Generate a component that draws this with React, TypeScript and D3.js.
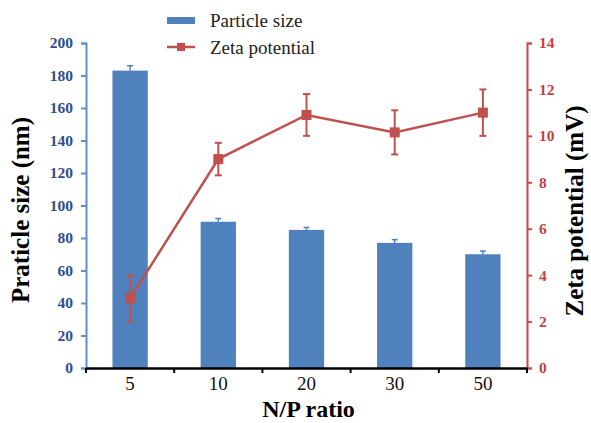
import React, { useEffect, useRef } from 'react'
import * as d3 from 'd3'

// N/P ratio categories
const categories = ['5', '10', '20', '30', '50']
// particle size (nm) and its error
const sizeValues = [183, 90, 85, 77, 70]
const sizeErrors = [3, 2, 1.5, 2, 2]
// zeta potential (mV) and its error
const zetaValues = [3.0, 9.0, 10.9, 10.15, 11.0]
const zetaErrors = [1.0, 0.7, 0.9, 0.95, 1.0]
const sizeTicks = [0, 20, 40, 60, 80, 100, 120, 140, 160, 180, 200]
const zetaTicks = [0, 2, 4, 6, 8, 10, 12, 14]

const W = 591
const H = 423
const serif = 'Liberation Serif'

export default function App() {
  const ref = useRef<SVGSVGElement>(null)

  useEffect(() => {
    const svg = d3.select(ref.current)
    svg.selectAll('*').remove()
    svg.attr('font-family', serif)

    const left = 86, right = 527, top = 43, bottom = 368
    const barColor = '#4f81bd'
    const lineColor = '#c0504d'

    const x = d3.scaleBand().domain(categories).range([left, right]).padding(0)
    const ySize = d3.scaleLinear().domain([0, 200]).range([bottom, top])
    const yZeta = d3.scaleLinear().domain([0, 14]).range([bottom, top])
    const cx = (i: number) => (x(categories[i]) as number) + x.bandwidth() / 2
    const bw = x.bandwidth() * 0.4

    // bars
    const bars = svg.append('g')
    categories.forEach((c, i) => {
      bars.append('rect')
        .attr('x', cx(i) - bw / 2)
        .attr('y', ySize(sizeValues[i]))
        .attr('width', bw)
        .attr('height', ySize(0) - ySize(sizeValues[i]))
        .attr('fill', barColor)
      // upper error bar only
      const yt = ySize(sizeValues[i] + sizeErrors[i])
      bars.append('line')
        .attr('x1', cx(i)).attr('x2', cx(i))
        .attr('y1', ySize(sizeValues[i])).attr('y2', yt)
        .attr('stroke', barColor).attr('stroke-width', 1.5)
      bars.append('line')
        .attr('x1', cx(i) - 3).attr('x2', cx(i) + 3)
        .attr('y1', yt).attr('y2', yt)
        .attr('stroke', barColor).attr('stroke-width', 1.5)
    })

    // left axis
    const yAxisL = svg.append('g')
      .attr('transform', `translate(${left},0)`)
      .call(d3.axisLeft(ySize).tickValues(sizeTicks).tickSize(5).tickPadding(8))
      .attr('font-family', serif)
    yAxisL.select('.domain').attr('stroke', '#5b8fd0').attr('stroke-width', 2)
    yAxisL.selectAll('.tick line').attr('stroke', '#5b8fd0').attr('stroke-width', 2)
    yAxisL.selectAll('.tick text')
      .attr('fill', '#2e4f8c')
      .attr('font-weight', 'bold').attr('font-size', 15.5)

    // right axis
    const yAxisR = svg.append('g')
      .attr('transform', `translate(${right},0)`)
      .call(d3.axisRight(yZeta).tickValues(zetaTicks).tickSize(5).tickPadding(7))
      .attr('font-family', serif)
    yAxisR.select('.domain').attr('stroke', '#c84a48').attr('stroke-width', 2)
    yAxisR.selectAll('.tick line').attr('stroke', '#c84a48').attr('stroke-width', 2)
    yAxisR.selectAll('.tick text')
      .attr('fill', '#c8403e')
      .attr('font-weight', 'bold').attr('font-size', 15.5)

    // x axis
    const xAxis = svg.append('g')
      .attr('transform', `translate(0,${bottom})`)
      .call(d3.axisBottom(x).tickSize(0).tickPadding(9))
      .attr('font-family', serif)
    xAxis.select('.domain').attr('stroke', '#000').attr('stroke-width', 2.5)
    xAxis.selectAll('.tick text')
      .attr('fill', '#111').attr('font-size', 19)
    const edges = categories.map(c => x(c) as number).concat([right])
    svg.append('g').selectAll('line').data(edges).join('line')
      .attr('x1', d => d).attr('x2', d => d)
      .attr('y1', bottom).attr('y2', bottom + 5)
      .attr('stroke', '#000').attr('stroke-width', 2)

    // zeta line
    const line = d3.line<number>()
      .x((_, i) => cx(i))
      .y(d => yZeta(d))
    svg.append('path')
      .datum(zetaValues)
      .attr('d', line)
      .attr('fill', 'none')
      .attr('stroke', lineColor)
      .attr('stroke-width', 2.5)
    zetaValues.forEach((v, i) => {
      const y1 = yZeta(v + zetaErrors[i]), y2 = yZeta(v - zetaErrors[i])
      const g = svg.append('g').attr('stroke', lineColor).attr('stroke-width', 2)
      g.append('line').attr('x1', cx(i)).attr('x2', cx(i)).attr('y1', y1).attr('y2', y2)
      g.append('line').attr('x1', cx(i) - 3.5).attr('x2', cx(i) + 3.5).attr('y1', y1).attr('y2', y1)
      g.append('line').attr('x1', cx(i) - 3.5).attr('x2', cx(i) + 3.5).attr('y1', y2).attr('y2', y2)
      svg.append('rect')
        .attr('x', cx(i) - 5).attr('y', yZeta(v) - 5)
        .attr('width', 10).attr('height', 10)
        .attr('fill', lineColor)
    })

    // axis titles
    svg.append('text')
      .attr('transform', 'translate(29,210) rotate(-90)')
      .attr('text-anchor', 'middle')
      .attr('font-weight', 'bold').attr('font-size', 25)
      .text('Praticle size (nm)')
    svg.append('text')
      .attr('transform', 'translate(583,211) rotate(-90)')
      .attr('text-anchor', 'middle')
      .attr('font-weight', 'bold').attr('font-size', 25)
      .text('Zeta potential (mV)')
    svg.append('text')
      .attr('x', (left + right) / 2 + 2).attr('y', 417)
      .attr('text-anchor', 'middle')
      .attr('font-weight', 'bold').attr('font-size', 24)
      .text('N/P ratio')

    // legend
    const lg = svg.append('g')
    lg.append('rect').attr('x', 167).attr('y', 17).attr('width', 28).attr('height', 7).attr('fill', barColor)
    lg.append('text').attr('x', 210).attr('y', 27)
      .attr('font-size', 19).attr('fill', '#222')
      .text('Particle size')
    lg.append('line').attr('x1', 167).attr('x2', 195).attr('y1', 47).attr('y2', 47)
      .attr('stroke', lineColor).attr('stroke-width', 2.5)
    lg.append('rect').attr('x', 177).attr('y', 43).attr('width', 8).attr('height', 8).attr('fill', lineColor)
    lg.append('text').attr('x', 210).attr('y', 54)
      .attr('font-size', 19).attr('fill', '#222')
      .text('Zeta potential')
  })

  return (
    <svg ref={ref} width={W} height={H} style={{ position: 'absolute', left: 0, top: 0, background: '#fff' }} />
  )
}
